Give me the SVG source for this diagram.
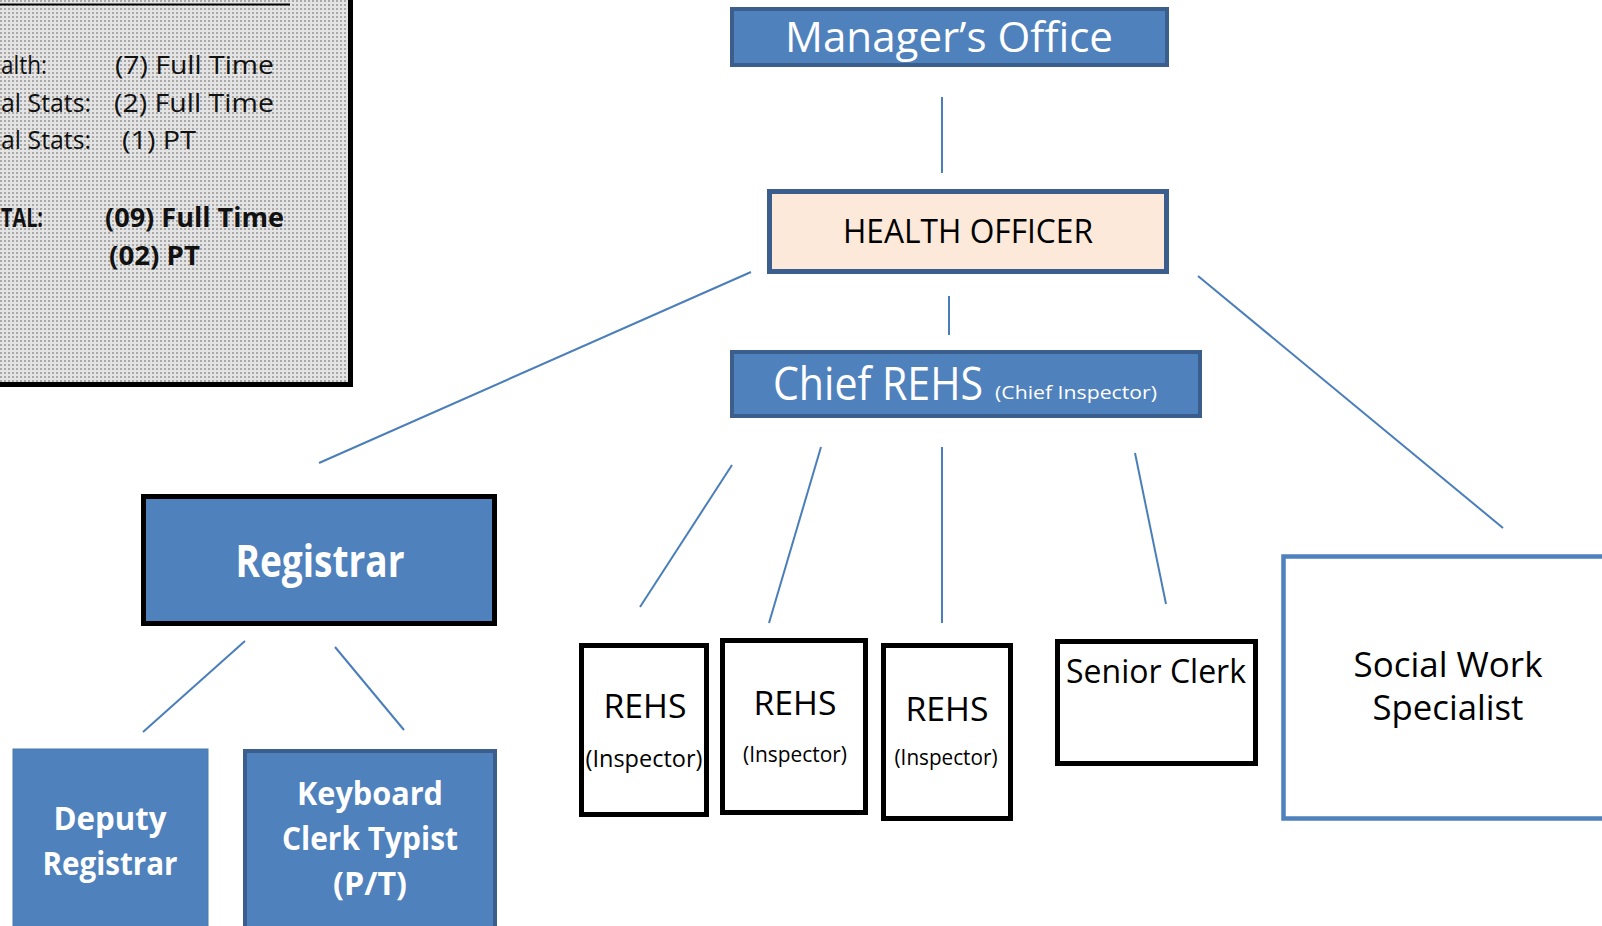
<svg xmlns="http://www.w3.org/2000/svg" width="1602" height="926" viewBox="0 0 1602 926">
<style>
text{font-family:"Open Sans","Noto Sans","DejaVu Sans",sans-serif}
.w{fill:#fff}
.k{fill:#000}
.b{font-weight:bold}
.blue{fill:#4F81BD;stroke:#3B5E8C;stroke-width:4}
.blk{fill:#fff;stroke:#000;stroke-width:5}
.conn line{stroke:#4A7EBB;stroke-width:2}
</style>
<defs>
<pattern id="dots" width="4" height="4" patternUnits="userSpaceOnUse">
<rect width="4" height="4" fill="#e4e4e4"/>
<rect width="2" height="2" fill="#a8a8a8"/>
</pattern>
</defs>
<rect width="1602" height="926" fill="#fff"/>

<g id="staff-summary">
<rect x="-10" y="-10" width="360.5" height="394.5" fill="url(#dots)" stroke="#000" stroke-width="5"/>
<line x1="0" y1="4.5" x2="290" y2="4.5" stroke="#000" stroke-width="2"/>
<g font-size="26" fill="#111">
<text x="1" y="74" textLength="46" lengthAdjust="spacingAndGlyphs">alth:</text>
<text x="115" y="74" textLength="159" lengthAdjust="spacingAndGlyphs">(7) Full Time</text>
<text x="1" y="112" textLength="90" lengthAdjust="spacingAndGlyphs">al Stats:</text>
<text x="114" y="112" textLength="160" lengthAdjust="spacingAndGlyphs">(2) Full Time</text>
<text x="1" y="149" textLength="90" lengthAdjust="spacingAndGlyphs">al Stats:</text>
<text x="122" y="149" textLength="74" lengthAdjust="spacingAndGlyphs">(1) PT</text>
<text x="1" y="227" class="b" textLength="42" lengthAdjust="spacingAndGlyphs">TAL:</text>
<text x="105" y="227" class="b" textLength="179" lengthAdjust="spacingAndGlyphs">(09) Full Time</text>
<text x="109" y="265" class="b" textLength="91" lengthAdjust="spacingAndGlyphs">(02) PT</text>
</g>
</g>

<g class="conn">
<line x1="942" y1="97" x2="942" y2="173"/>
<line x1="751" y1="272" x2="319" y2="463"/>
<line x1="949" y1="296" x2="949" y2="335"/>
<line x1="1198" y1="276" x2="1503" y2="528"/>
<line x1="732" y1="465" x2="640" y2="607"/>
<line x1="821" y1="447" x2="769" y2="623"/>
<line x1="942" y1="447" x2="942" y2="623"/>
<line x1="1135" y1="453" x2="1166" y2="604"/>
<line x1="245" y1="641" x2="143" y2="732"/>
<line x1="335" y1="647" x2="404" y2="730"/>
</g>

<g id="managers-office">
<rect class="blue" x="732" y="9" width="435" height="56"/>
<text class="w" x="949" y="52" font-size="42" text-anchor="middle" textLength="328" lengthAdjust="spacingAndGlyphs">Manager’s Office</text>
</g>

<g id="health-officer">
<rect x="769.5" y="191.5" width="397" height="80" fill="#FDE9D9" stroke="#3B5E8C" stroke-width="5"/>
<text class="k" x="968" y="243" font-size="32" text-anchor="middle" textLength="250" lengthAdjust="spacingAndGlyphs">HEALTH OFFICER</text>
</g>

<g id="chief-rehs">
<rect class="blue" x="732" y="352" width="468" height="64"/>
<text class="w" x="773" y="400" font-size="45" textLength="210" lengthAdjust="spacingAndGlyphs">Chief REHS</text>
<text class="w" x="995" y="399" font-size="19" textLength="162" lengthAdjust="spacingAndGlyphs">(Chief Inspector)</text>
</g>

<g id="registrar">
<rect x="143.5" y="496.5" width="351" height="127" fill="#4F81BD" stroke="#000" stroke-width="5"/>
<text class="w b" x="320" y="577" font-size="44" text-anchor="middle" textLength="169" lengthAdjust="spacingAndGlyphs">Registrar</text>
</g>

<g id="deputy-registrar">
<rect x="13" y="749" width="195" height="190" fill="#4F81BD" stroke="#4A7AB5" stroke-width="1"/>
<text class="w b" x="110" y="830" font-size="33" text-anchor="middle" textLength="113" lengthAdjust="spacingAndGlyphs">Deputy</text>
<text class="w b" x="110" y="875" font-size="33" text-anchor="middle" textLength="135" lengthAdjust="spacingAndGlyphs">Registrar</text>
</g>

<g id="keyboard-clerk">
<rect class="blue" x="245" y="751" width="250" height="190"/>
<text class="w b" x="370" y="805" font-size="33" text-anchor="middle" textLength="146" lengthAdjust="spacingAndGlyphs">Keyboard</text>
<text class="w b" x="370" y="850" font-size="33" text-anchor="middle" textLength="176" lengthAdjust="spacingAndGlyphs">Clerk Typist</text>
<text class="w b" x="370" y="895" font-size="33" text-anchor="middle" textLength="74" lengthAdjust="spacingAndGlyphs">(P/T)</text>
</g>

<g id="rehs-1">
<rect class="blk" x="581.5" y="645.5" width="125" height="169"/>
<text class="k" x="645" y="718" font-size="32" text-anchor="middle" textLength="83" lengthAdjust="spacingAndGlyphs">REHS</text>
<text class="k" x="644" y="767" font-size="23" text-anchor="middle" textLength="117" lengthAdjust="spacingAndGlyphs">(Inspector)</text>
</g>

<g id="rehs-2">
<rect class="blk" x="722.5" y="640.5" width="143" height="172"/>
<text class="k" x="795" y="715" font-size="32" text-anchor="middle" textLength="83" lengthAdjust="spacingAndGlyphs">REHS</text>
<text class="k" x="795" y="762" font-size="21" text-anchor="middle" textLength="104" lengthAdjust="spacingAndGlyphs">(Inspector)</text>
</g>

<g id="rehs-3">
<rect class="blk" x="883.5" y="645.5" width="127" height="173"/>
<text class="k" x="947" y="721" font-size="32" text-anchor="middle" textLength="83" lengthAdjust="spacingAndGlyphs">REHS</text>
<text class="k" x="946" y="765" font-size="21" text-anchor="middle" textLength="103" lengthAdjust="spacingAndGlyphs">(Inspector)</text>
</g>

<g id="senior-clerk">
<rect class="blk" x="1057.5" y="641.5" width="198" height="122"/>
<text class="k" x="1156" y="683" font-size="33" text-anchor="middle" textLength="180" lengthAdjust="spacingAndGlyphs">Senior Clerk</text>
</g>

<g id="social-work">
<rect x="1283.5" y="556.5" width="400" height="262" fill="#fff" stroke="#4F81BD" stroke-width="4.5"/>
<text class="k" x="1448" y="677" font-size="35" text-anchor="middle" textLength="189" lengthAdjust="spacingAndGlyphs">Social Work</text>
<text class="k" x="1448" y="720" font-size="35" text-anchor="middle" textLength="151" lengthAdjust="spacingAndGlyphs">Specialist</text>
</g>
</svg>
